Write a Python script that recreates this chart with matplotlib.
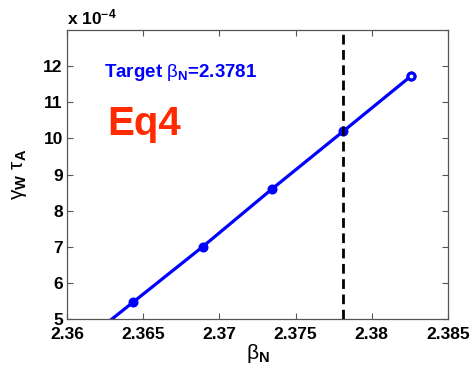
import matplotlib
matplotlib.use("Agg")
import matplotlib.pyplot as plt

plt.rcParams["font.family"] = "Liberation Sans"
plt.rcParams["mathtext.fontset"] = "custom"
plt.rcParams["mathtext.rm"] = "Liberation Sans"
plt.rcParams["mathtext.it"] = "Liberation Sans:italic"
plt.rcParams["mathtext.bf"] = "Liberation Sans:bold"

# growth rate vs beta_N scan
beta_n = [2.3598, 2.36435, 2.3689, 2.37345, 2.37813, 2.38255]
gamma_tau = [3.94, 5.47, 7.00, 8.60, 10.20, 11.72]  # units of 1e-4
target_beta = 2.3781

x_ticks = [2.36, 2.365, 2.37, 2.375, 2.38, 2.385]
x_tick_labels = ["2.36", "2.365", "2.37", "2.375", "2.38", "2.385"]
y_ticks = [5, 6, 7, 8, 9, 10, 11, 12]

fig = plt.figure(figsize=(4.74, 3.68), dpi=100)
ax = fig.add_axes([0.1414, 0.1332, 0.8036, 0.7848])

ax.plot(beta_n, gamma_tau, "-o", color="blue", lw=2.3, ms=5, mew=2.2,
        mfc="blue", mec="blue")
ax.plot(beta_n[-1], gamma_tau[-1], "o", color="blue", ms=5, mew=2.2,
        mfc="white", mec="blue")
ax.axvline(target_beta, color="black", ls=(0, (3.5, 2)), lw=2.0)

ax.set_xlim(2.36, 2.385)
ax.set_ylim(5, 13)
ax.set_xticks(x_ticks)
ax.set_xticklabels(x_tick_labels)
ax.set_yticks(y_ticks)
ax.tick_params(direction="in", top=True, right=True, length=4, width=0.8,
               color="#555555", labelsize=12.5, pad=3)
ax.tick_params(axis="x", pad=6)
for lbl in ax.get_xticklabels() + ax.get_yticklabels():
    lbl.set_fontweight("bold")
for s in ax.spines.values():
    s.set_color("#555555")
    s.set_linewidth(0.9)

fig.text(0.141, 0.925, r"x 10$^{\mathbf{-4}}$", fontsize=12.5,
         fontweight="bold", ha="left", va="bottom")

ax.set_xlabel(r"$\mathrm{\beta}_{\mathbf{N}}$", fontsize=15, labelpad=0)
ax.set_ylabel(r"$\mathrm{\gamma}_{\mathbf{W}}\ \mathrm{\tau}_{\mathbf{A}}$",
              fontsize=15, labelpad=10)

ax.text(0.097, 0.855, r"Target $\mathrm{\beta}_{\mathbf{N}}$=2.3781",
        transform=ax.transAxes, color="blue", fontsize=13.5,
        fontweight="bold", ha="left", va="center")
ax.text(0.105, 0.675, "Eq4", transform=ax.transAxes, color="#ff2a00",
        fontsize=29, fontweight="bold", ha="left", va="center")

fig.savefig("out.png", dpi=100)
